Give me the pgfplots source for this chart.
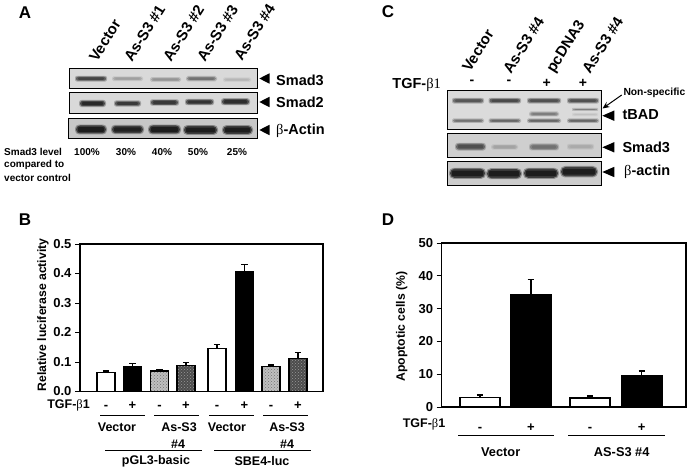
\documentclass[border=0pt]{standalone}
\usepackage{fontspec}
\setmainfont{Liberation Sans}
\newfontfamily\serifb{Liberation Serif}
\usepackage{pgfplots}
\pgfplotsset{compat=1.18}
\usetikzlibrary{patterns,arrows.meta}
\newcommand{\fs}[1]{\fontsize{#1}{#1}\selectfont\bfseries}
\newcommand{\bet}{{\serifb\mdseries β}}
% band: x0 x1 y halfheight darkness
\newcommand{\band}[5]{%
  \fill[black!#5,opacity=.3,rounded corners=#4pt] ({#1-1},{#3-#4-.9}) rectangle ({#2+1},{#3+#4+.9});
  \fill[black!#5,opacity=.6,rounded corners=#4pt] (#1,{#3-#4}) rectangle (#2,{#3+#4});
  \fill[black!#5,opacity=.6,rounded corners=1pt] ({#1+2},{#3-.6*#4}) rectangle ({#2-2},{#3+.6*#4});
}
\newcommand{\blot}[5]{\fill[black!#5] (#1,#3) rectangle (#2,#4);}
\newcommand{\blotframe}[4]{\draw[black,line width=.8pt] (#1,#3) rectangle (#2,#4);}
\newcommand{\tri}[3]{\fill[black] (#1,#3) -- ({#2},{#3-5.2}) -- ({#2},{#3+5.2}) -- cycle;}
\newcommand{\T}[4]{\node[inner sep=0,anchor=center] at (#1,#2) {\fs{#3}#4};}
\newcommand{\Tl}[4]{\node[inner sep=0,anchor=west] at (#1,#2) {\fs{#3}#4};}
\newcommand{\R}[4]{\node[inner sep=0,anchor=base west,rotate=#3] at (#1,#2) {\fs{15}#4};}
\pgfplotsset{
  panel/.style={
    scale only axis,
    axis line style={line width=1.2pt},
    ytick pos=left,
    xtick pos=bottom,
    tick align=outside,
    major tick length=5pt,
    tick style={line width=1pt,black},
    x tick style={draw=none},
    ymin=0,
    ticklabel style={font=\fs{13}},
    xticklabel style={text height=9pt,text depth=0pt},
    /pgf/number format/assume math mode=true,
    ytick style={line width=1pt},
  },
  barw/.style={ybar,bar shift=0pt,bar width=#1,draw=black,line width=1.3pt,
    error bars/y dir=plus,error bars/y explicit,
    error bars/error bar style={line width=1.4pt,black},
    error bars/error mark options={rotate=90,mark size=3.2pt,line width=1.4pt,black}},
}
\begin{document}
\begin{tikzpicture}
\path[use as bounding box] (0,0) rectangle (692pt,-470pt);

% ---------- Panel B
\begin{axis}[panel,at={(80pt,-391.5pt)},anchor=south west,width=243pt,height=147.5pt,
  xmin=80,xmax=323,ymax=0.5,
  ytick={0,0.1,0.2,0.3,0.4,0.5},
  yticklabel style={/pgf/number format/fixed,/pgf/number format/fixed zerofill,/pgf/number format/precision=1},
  xtick={106,132.5,159.5,186,217,244.5,271,298},
  xticklabels={-,+,-,+,-,+,-,+},
  xticklabel style={yshift=0pt},
  ylabel={Relative luciferase activity},
  every axis y label/.style={at={(axis description cs:-0.152,0.519)},rotate=90,anchor=center,font=\fs{12.2}},
]
\addplot[barw=18,fill=white] coordinates {(106,0.065) +- (0,0.004) (217,0.145) +- (0,0.015)};
\addplot[barw=18,fill=black] coordinates {(132.5,0.085) +- (0,0.010) (244.5,0.405) +- (0,0.025)};
\addplot[barw=18,fill=black!25,postaction={pattern=crosshatch dots,pattern color=black!55}] coordinates {(159.5,0.070) +- (0,0.005) (271,0.085) +- (0,0.005)};
\addplot[barw=18,fill=black!70,postaction={pattern=crosshatch dots,pattern color=white!60!black}] coordinates {(186,0.088) +- (0,0.010) (298,0.113) +- (0,0.019)};
\end{axis}

% ---------- Panel D
\begin{axis}[panel,at={(441.7pt,-407pt)},anchor=south west,width=244.3pt,height=164pt,
  xmin=441.7,xmax=686,ymax=50,
  ytick={0,10,20,30,40,50},
  xtick={480,530.8,590,641.7},
  xticklabels={-,+,-,+},
  xticklabel style={yshift=-7pt},
  ylabel={Apoptotic cells (\%)},
  every axis y label/.style={at={(axis description cs:-0.164,0.49)},rotate=90,anchor=center,font=\fs{12.2}},
]
\addplot[barw=40,fill=white] coordinates {(480,3.0) +- (0,0.6) (590,2.7) +- (0,0.6)};
\addplot[barw=41,fill=black] coordinates {(530.8,34.2) +- (0,4.6) (641.7,9.7) +- (0,1.3)};
\end{axis}

\begin{scope}[x=1pt,y=-1pt]
% ---------- Panel letters
\T{25}{13}{17}{A}\T{25}{220}{17}{B}\T{388}{12}{17}{C}\T{388}{220}{17}{D}

% ---------- Panel A blots
\blot{69}{257}{68}{88}{15}\blot{69}{257}{92}{113}{15}\blot{68.5}{257}{118}{138}{22}
\band{76}{106}{78.7}{2}{80}\band{113}{142}{78.7}{1.5}{40}\band{151}{180}{79.5}{1.5}{45}\band{187}{216}{78.7}{1.8}{60}\band{224}{250}{79.7}{1.3}{30}
\band{80}{105}{103.5}{2.7}{92}\band{115}{140}{103.5}{2.2}{85}\band{151}{178}{102.5}{2.3}{85}\band{186}{213}{102}{2.3}{88}\band{222}{249}{101.7}{2.6}{90}
\band{76}{106}{129.5}{4}{97}\band{112}{143}{129.5}{3.7}{95}\band{149}{180}{129.5}{4}{97}\band{184}{217}{130}{4}{97}\band{223}{252}{130}{3.9}{97}
\blotframe{69}{257}{68}{88}\blotframe{69}{257}{92}{113}\blotframe{68.5}{257}{118}{138}
\R{97}{63}{58}{Vector}\R{132}{63}{58}{As-S3 \#1}\R{171}{63}{58}{As-S3 \#2}\R{205}{63}{58}{As-S3 \#3}\R{242}{62}{58}{As-S3 \#4}
\tri{259.3}{269.5}{78.5}\tri{259.3}{269.5}{102}\tri{259.3}{269.5}{130}
\Tl{276}{80}{14.5}{Smad3}\Tl{276}{102}{14.5}{Smad2}\Tl{276}{131}{14.5}{\bet-Actin}
\Tl{4}{152}{10}{Smad3 level}\Tl{4}{165}{10}{compared to}\Tl{4}{178}{10}{vector control}
\T{87}{152.5}{10}{100\%}\T{126}{152.5}{10}{30\%}\T{162}{152.5}{10}{40\%}\T{198}{152.5}{10}{50\%}\T{237}{152.5}{10}{25\%}

% ---------- Panel C blots
\blot{447.3}{601.7}{90}{129}{14}\blot{447.3}{601.7}{133}{157}{19}\blot{447.3}{601.7}{161}{185}{20}
\band{453}{483}{100.7}{2}{72}\band{489.5}{520}{100.7}{2}{78}\band{528}{560}{100.7}{2}{75}\band{568}{598}{100.7}{2}{75}
\band{453}{483}{120.7}{1.4}{60}\band{489.5}{520}{120.7}{1.4}{65}\band{528}{560}{120.7}{1.4}{65}\band{568}{598}{120.7}{1.4}{65}
\band{530}{558}{114}{1.6}{55}\band{573}{597}{109.5}{.6}{55}\band{573}{597}{114.5}{.8}{25}
\band{456}{485}{146.7}{3}{75}\band{492}{517}{147}{1.8}{38}\band{530}{558}{147}{2.6}{60}\band{568}{593}{146.7}{2}{35}
\band{450}{485}{173.3}{4.6}{97}\band{487}{521}{173.7}{4.6}{97}\band{524}{558}{173.3}{4.6}{97}\band{561}{597}{171.7}{4.8}{97}
\blotframe{447.3}{601.7}{90}{129}\blotframe{447.3}{601.7}{133}{157}\blotframe{447.3}{601.7}{161}{185}
\R{470}{73}{58}{Vector}\R{511}{75}{58}{As-S3 \#4}\R{554}{74}{58}{pcDNA3}\R{590}{75}{58}{As-S3 \#4}
\T{472}{82.5}{14}{-}\T{509}{82.5}{14}{-}\T{546.7}{83}{14}{+}\T{583}{83}{14}{+}
\node[inner sep=0,anchor=center] at (416.7,84.5) {\fs{14.5}TGF-\bet{\serifb\mdseries 1}};
\tri{602.3}{614.3}{115.7}\tri{602.3}{614.3}{147.3}\tri{602.3}{614.3}{172}
\draw[-{Stealth[length=7pt,width=6pt]},line width=1pt] (621.7,95) -- (602.5,108.5);
\Tl{623.3}{93.3}{10.3}{Non-specific}
\Tl{622.3}{114.5}{14.5}{tBAD}\Tl{622.3}{147.3}{14.5}{Smad3}\Tl{624}{172}{14.5}{\bet-actin}

% ---------- Panel B annotations
\node[inner sep=0,anchor=center] at (68.5,405.5) {\fs{12.5}TGF-\bet1};
\foreach \a/\b in {100/145,154/199,209/254,263/308} \draw[line width=.8pt] (\a,415) -- (\b,415);
\foreach \a/\b in {105/202,214/311} \draw[line width=.8pt] (\a,450) -- (\b,450);
\T{117}{427.5}{12.5}{Vector}\T{179}{427.5}{12.5}{As-S3}\T{227}{427.5}{12.5}{Vector}\T{287}{427.5}{12.5}{As-S3}
\T{178}{444}{12.5}{\#4}\T{287}{444}{12.5}{\#4}
\T{156}{461}{12.5}{pGL3-basic}\T{262}{461}{12.5}{SBE4-luc}

% ---------- Panel D annotations
\node[inner sep=0,anchor=center] at (424,424.5) {\fs{12.5}TGF-\bet1};
\foreach \a/\b in {458/554.3,568.3/665} \draw[line width=.8pt] (\a,435.7) -- (\b,435.7);
\T{500.7}{451.7}{12.8}{Vector}\T{621.7}{451.7}{12.8}{AS-S3 \#4}
\end{scope}
\end{tikzpicture}
\end{document}
